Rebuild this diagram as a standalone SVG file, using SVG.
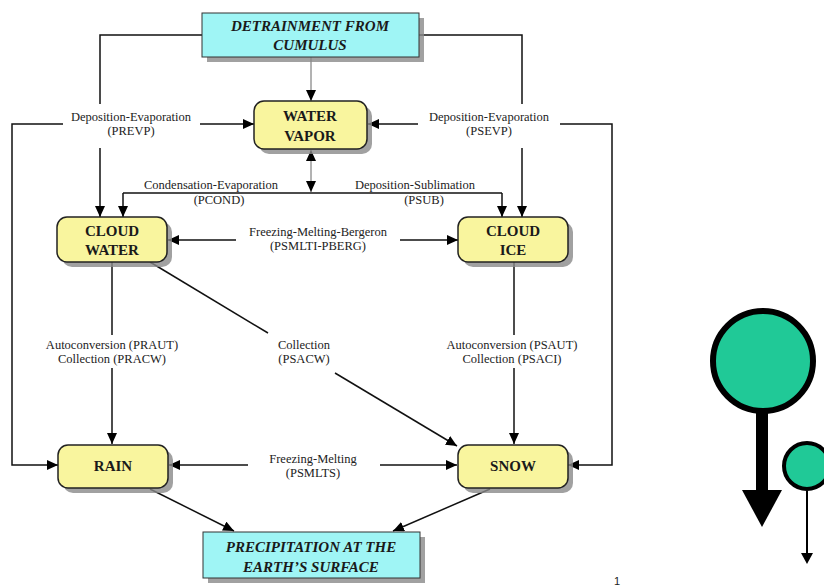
<svg xmlns="http://www.w3.org/2000/svg" width="824" height="587" viewBox="0 0 824 587">
<defs>
<marker id="ah" markerUnits="userSpaceOnUse" markerWidth="12" markerHeight="10" refX="11" refY="5" orient="auto">
<path d="M0,0 L11,5 L0,10 z" fill="#000"/>
</marker>
<marker id="ahs" markerUnits="userSpaceOnUse" markerWidth="12" markerHeight="10" refX="11" refY="5" orient="auto-start-reverse">
<path d="M0,0 L11,5 L0,10 z" fill="#000"/>
</marker>
</defs>
<style>
.c{fill:none;stroke:#111;stroke-width:1.5}
.g{fill:none;stroke:#666;stroke-width:1}
.a{marker-end:url(#ah)}
.sh{fill:#8a8a8a;opacity:0.8}
.y{fill:#f9f59e;stroke:#222;stroke-width:1.5}
.cy{fill:#9ff5f5;stroke:#333;stroke-width:1}
.nt{font-family:"Liberation Serif",serif;font-weight:bold;font-size:15px;fill:#1a1a1a;text-anchor:middle}
.it{font-style:italic}
.lb{font-family:"Liberation Serif",serif;font-size:12.5px;fill:#222;text-anchor:middle}
</style>
<g id="connectors">
<polyline class="c" points="202,35 100,35 100,104"/>
<line class="c a" x1="100" y1="148" x2="100" y2="217"/>
<polyline class="c" points="419,35 522,35 522,104"/>
<line class="c a" x1="522" y1="148" x2="522" y2="217"/>
<line class="g a" x1="311" y1="57" x2="311" y2="101"/>
<polyline class="c a" points="63,124 12,124 12,465 58,465"/>
<line class="c a" x1="200" y1="124" x2="254" y2="124"/>
<line class="c a" x1="418" y1="124" x2="368" y2="124"/>
<polyline class="c a" points="560,124 612,124 612,465 568,465"/>
<line class="g a" x1="311" y1="150" x2="311" y2="192" style="marker-start:url(#ahs)"/>
<line class="c" x1="123" y1="193" x2="502" y2="193"/>
<line class="c a" x1="123" y1="193" x2="123" y2="217"/>
<line class="c a" x1="502" y1="193" x2="502" y2="217"/>
<line class="c a" x1="236" y1="240" x2="168" y2="240"/>
<line class="c a" x1="400" y1="240" x2="458" y2="240"/>
<line class="c" x1="112" y1="262" x2="112" y2="335"/>
<line class="c a" x1="112" y1="368" x2="112" y2="444"/>
<line class="c" x1="150" y1="262" x2="268" y2="333"/>
<line class="c a" x1="335" y1="373" x2="457" y2="446"/>
<line class="c" x1="514" y1="262" x2="514" y2="335"/>
<line class="c a" x1="514" y1="368" x2="514" y2="444"/>
<line class="c a" x1="248" y1="465" x2="169" y2="465"/>
<line class="c a" x1="380" y1="465" x2="457" y2="465"/>
<line class="c a" x1="150" y1="489" x2="234" y2="531"/>
<line class="c a" x1="490" y1="489" x2="393" y2="531"/>
</g>
<g id="labels">
<text class="lb" x="131" y="121">Deposition-Evaporation</text>
<text class="lb" x="131" y="135">(PREVP)</text>
<text class="lb" x="489" y="121">Deposition-Evaporation</text>
<text class="lb" x="489" y="135">(PSEVP)</text>
<text class="lb" x="211" y="189">Condensation-Evaporation</text>
<text class="lb" x="219" y="204">(PCOND)</text>
<text class="lb" x="415" y="189">Deposition-Sublimation</text>
<text class="lb" x="424" y="204">(PSUB)</text>
<text class="lb" x="318" y="236">Freezing-Melting-Bergeron</text>
<text class="lb" x="318" y="250">(PSMLTI-PBERG)</text>
<text class="lb" x="112" y="349">Autoconversion (PRAUT)</text>
<text class="lb" x="112" y="363">Collection (PRACW)</text>
<text class="lb" x="304" y="349">Collection</text>
<text class="lb" x="304" y="363">(PSACW)</text>
<text class="lb" x="512" y="349">Autoconversion (PSAUT)</text>
<text class="lb" x="512" y="363">Collection (PSACI)</text>
<text class="lb" x="313" y="463">Freezing-Melting</text>
<text class="lb" x="313" y="477">(PSMLTS)</text>
</g>
<g id="detrainment">
<rect class="sh" x="207" y="18" width="217" height="44"/>
<rect class="cy" x="202" y="13" width="217" height="44"/>
<text class="nt it" x="310" y="31">DETRAINMENT FROM</text>
<text class="nt it" x="310" y="50">CUMULUS</text>
</g>
<g id="water-vapor">
<rect class="sh" x="259" y="106" width="113" height="48" rx="10"/>
<rect class="y" x="254" y="101" width="113" height="48" rx="10"/>
<text class="nt" x="310" y="121">WATER</text>
<text class="nt" x="310" y="141">VAPOR</text>
</g>
<g id="cloud-water">
<rect class="sh" x="62" y="222" width="110" height="45" rx="10"/>
<rect class="y" x="57" y="217" width="110" height="45" rx="10"/>
<text class="nt" x="112" y="236">CLOUD</text>
<text class="nt" x="112" y="255">WATER</text>
</g>
<g id="cloud-ice">
<rect class="sh" x="463" y="222" width="110" height="45" rx="10"/>
<rect class="y" x="458" y="217" width="110" height="45" rx="10"/>
<text class="nt" x="513" y="236">CLOUD</text>
<text class="nt" x="513" y="255">ICE</text>
</g>
<g id="rain">
<rect class="sh" x="63" y="450" width="110" height="43" rx="10"/>
<rect class="y" x="58" y="445" width="110" height="43" rx="10"/>
<text class="nt" x="113" y="471">RAIN</text>
</g>
<g id="snow">
<rect class="sh" x="463" y="450" width="110" height="43" rx="10"/>
<rect class="y" x="458" y="445" width="110" height="43" rx="10"/>
<text class="nt" x="513" y="471">SNOW</text>
</g>
<g id="precipitation">
<rect class="sh" x="208" y="537" width="217" height="46"/>
<rect class="cy" x="203" y="532" width="217" height="46"/>
<text class="nt it" x="311" y="552">PRECIPITATION AT THE</text>
<text class="nt it" x="311" y="572">EARTH’S SURFACE</text>
</g>
<g id="drops">
<circle cx="763" cy="361" r="50" fill="#20c997" stroke="#000" stroke-width="6"/>
<rect x="756" y="413" width="12" height="78" fill="#000"/>
<polygon points="742,490 782,490 762,527" fill="#000"/>
<circle cx="807" cy="466" r="23" fill="#20c997" stroke="#000" stroke-width="4"/>
<line x1="807" y1="491" x2="807" y2="555" stroke="#000" stroke-width="2"/>
<polygon points="801,553 813,553 807,564" fill="#000"/>
</g>
<text x="614" y="585" font-family="Liberation Sans,sans-serif" font-size="11" fill="#222">1</text>
</svg>
